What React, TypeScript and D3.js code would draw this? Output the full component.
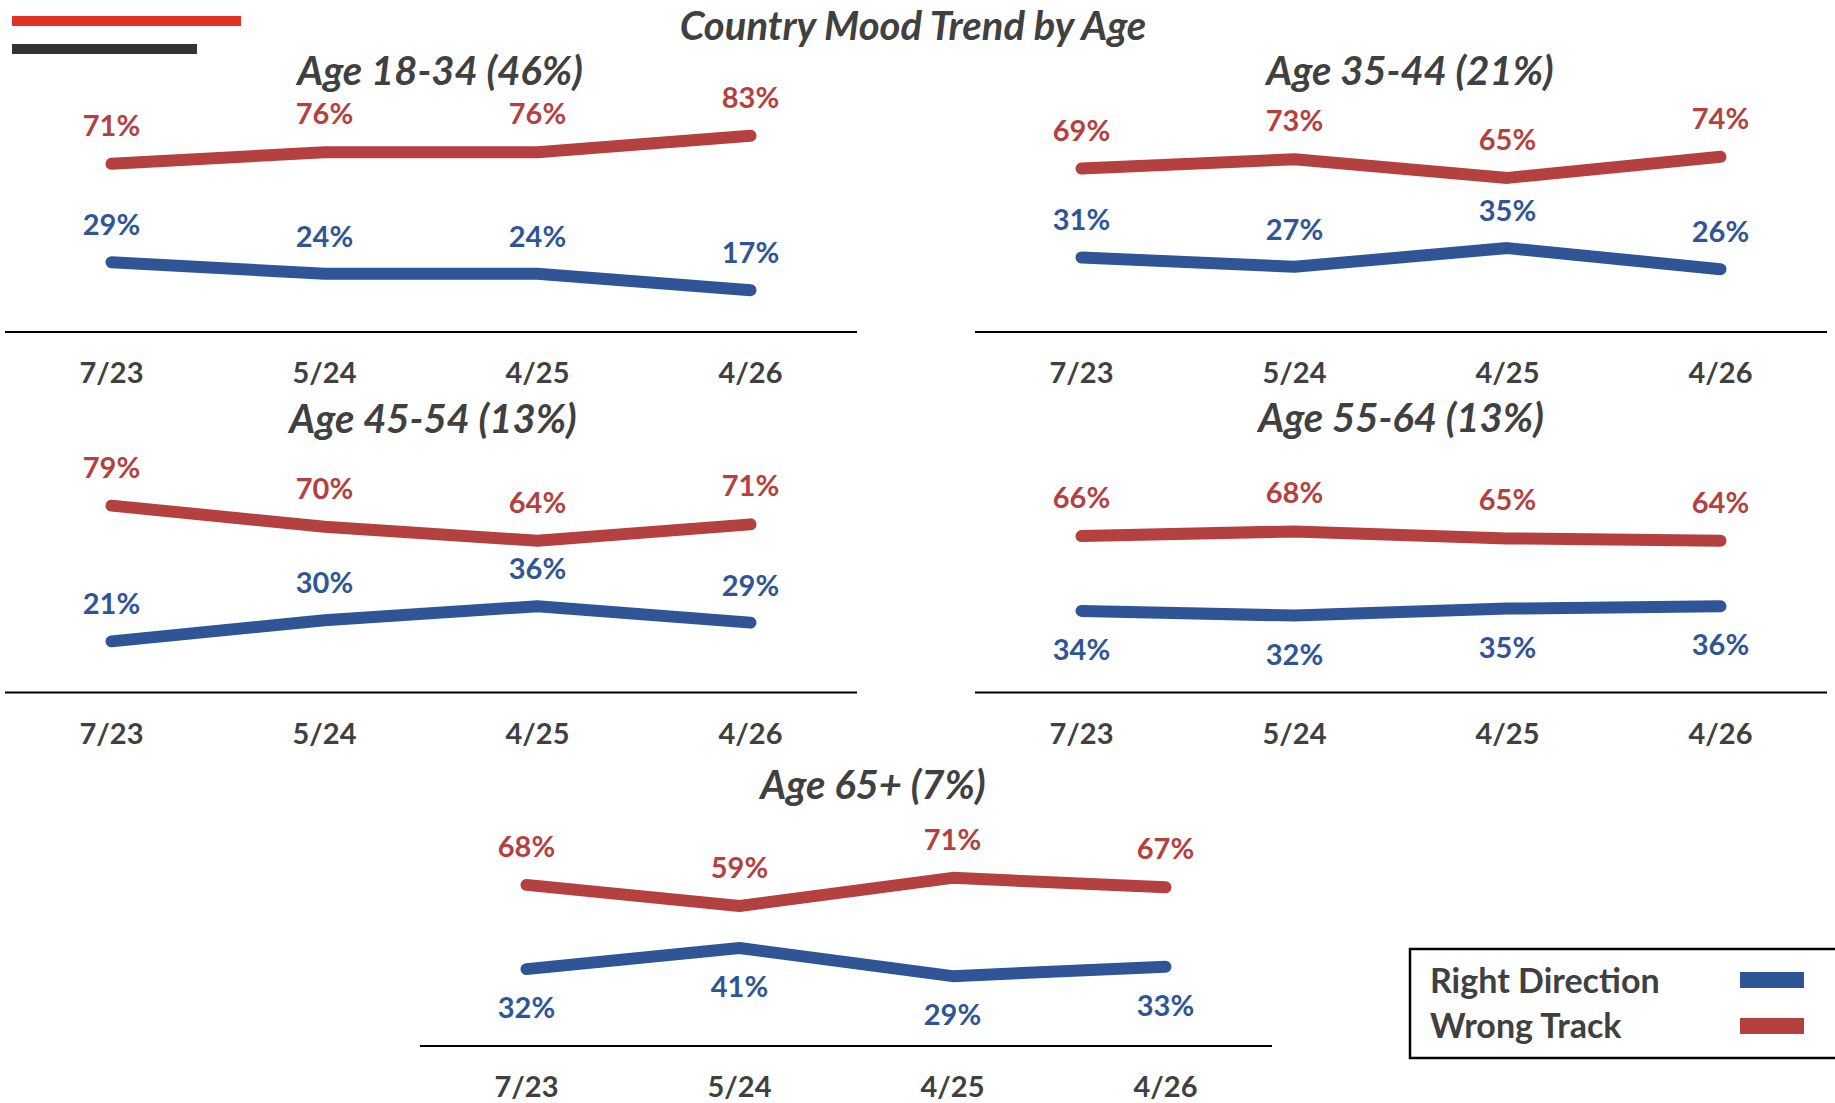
import React from 'react';
import * as d3 from 'd3';

const dates = ['7/23', '5/24', '4/25', '4/26'];

const panelTitles = ['Age 18-34 (46%)', 'Age 35-44 (21%)', 'Age 45-54 (13%)', 'Age 55-64 (13%)', 'Age 65+ (7%)'];
const rightDirection = [
  [29, 24, 24, 17],
  [31, 27, 35, 26],
  [21, 30, 36, 29],
  [34, 32, 35, 36],
  [32, 41, 29, 33],
];
const wrongTrack = [
  [71, 76, 76, 83],
  [69, 73, 65, 74],
  [79, 70, 64, 71],
  [66, 68, 65, 64],
  [68, 59, 71, 67],
];
// blue labels go below the line in these panels
const blueBelow = [false, false, false, true, true];

const W = 1835;
const H = 1103;
const BLUE = '#2F5597';
const RED = '#B4413F';
const TEXT = '#404040';
const FONT = 'Lato, sans-serif';

// layout of each small chart: left edge, zero line, title centre
const layout = [
  { x0: 5, base: 330, titleX: 440, titleY: 85 },
  { x0: 975, base: 330, titleX: 1410, titleY: 85 },
  { x0: 5, base: 690.5, titleX: 433, titleY: 433 },
  { x0: 975, base: 690.5, titleX: 1401, titleY: 432 },
  { x0: 420, base: 1044, titleX: 873, titleY: 799 },
];

const Panel: React.FC<{ i: number }> = ({ i }) => {
  const l = layout[i];
  const x = d3.scalePoint<string>().domain(dates).range([l.x0, l.x0 + 852]).padding(0.5);
  const y = d3.scaleLinear().domain([0, 100]).range([l.base, l.base - 234]);
  const line = d3.line<number>()
    .x((_, j) => x(dates[j]) as number)
    .y(d => y(d));
  const [r0, r1] = x.range();
  return (
    <g>
      <text x={l.titleX} y={l.titleY} textAnchor="middle" fontSize={40} fontStyle="italic" fontWeight={700} fill={TEXT}>
        {panelTitles[i]}
      </text>
      <line x1={r0} x2={Math.min(r1, W)} y1={l.base + 2} y2={l.base + 2} stroke="#000" strokeWidth={2.2} />
      {dates.map(d => (
        <text key={d} x={x(d)} y={l.base + 53} textAnchor="middle" fontSize={29} fontWeight={700} fill={TEXT}>{d}</text>
      ))}
      <path d={line(wrongTrack[i]) || ''} fill="none" stroke={RED} strokeWidth={12} strokeLinecap="round" strokeLinejoin="round" />
      <path d={line(rightDirection[i]) || ''} fill="none" stroke={BLUE} strokeWidth={12} strokeLinecap="round" strokeLinejoin="round" />
      {wrongTrack[i].map((v, j) => (
        <text key={'r' + j} x={x(dates[j])} y={y(v) - 28} textAnchor="middle" fontSize={29} fontWeight={700} fill={RED}>{v}%</text>
      ))}
      {rightDirection[i].map((v, j) => (
        <text key={'b' + j} x={x(dates[j])} y={blueBelow[i] ? y(v) + 49 : y(v) - 27} textAnchor="middle" fontSize={29} fontWeight={700} fill={BLUE}>{v}%</text>
      ))}
    </g>
  );
};

export default function App() {
  return (
    <>
      <style>{'body{margin:0}'}</style>
      <svg width={W} height={H} style={{ display: 'block', fontFamily: FONT }}>
        <rect width={W} height={H} fill="#fff" />
        <rect x={12} y={16} width={229} height={10} fill="#E03127" />
        <rect x={12} y={44} width={185} height={10} fill="#333" />
        <text x={913} y={40} textAnchor="middle" fontSize={40} fontStyle="italic" fontWeight={700} fill={TEXT}>
          Country Mood Trend by Age
        </text>
        {panelTitles.map((_, i) => <Panel key={i} i={i} />)}
        <rect x={1410} y={949} width={440} height={109} fill="#fff" stroke="#000" strokeWidth={2.5} />
        <text x={1430} y={993} fontSize={34} fontWeight={700} fill={TEXT}>Right Direction</text>
        <text x={1430} y={1038} fontSize={34} fontWeight={700} fill={TEXT}>Wrong Track</text>
        <rect x={1740} y={972} width={64} height={16} fill={BLUE} />
        <rect x={1740} y={1018} width={64} height={16} fill={RED} />
      </svg>
    </>
  );
}
